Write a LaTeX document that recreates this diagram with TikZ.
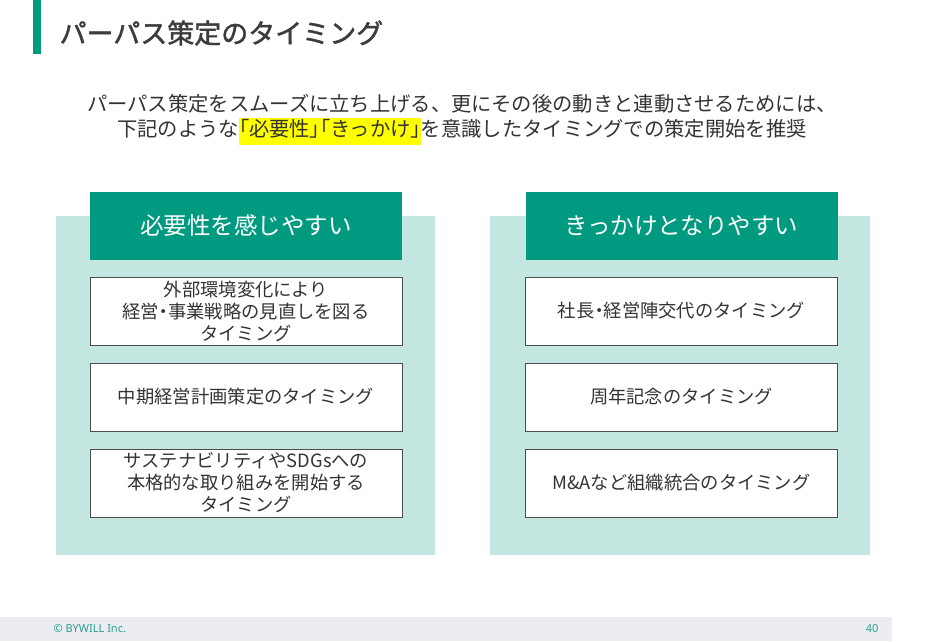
\documentclass[tikz,border=0pt]{standalone}
\usepackage{fontspec}
\setmainfont{Noto Sans CJK JP}
\newfontfamily\latinfont{Noto Sans}
\newfontfamily\pfont[RawFeature=+palt]{Noto Sans CJK JP}
\newfontfamily\titlefont[FakeBold=1.6]{Noto Sans CJK JP}
\definecolor{dkgreen}{RGB}{0,154,128}
\definecolor{ltgreen}{RGB}{195,230,225}
\definecolor{txt}{RGB}{51,51,51}
\definecolor{titletxt}{RGB}{60,60,60}
\definecolor{footbg}{RGB}{236,237,241}
\definecolor{foottxt}{RGB}{40,160,140}
\definecolor{hl}{RGB}{255,255,0}
\newcommand{\pd}{{\pfont ・}}
\begin{document}
\begin{tikzpicture}[x=1pt,y=-1pt,
  header/.style={fill=dkgreen,draw=none,text=white,font=\fontsize{23.5}{26}\selectfont,minimum width=312pt,minimum height=68pt,inner sep=0pt},
  itembox/.style={fill=white,draw=black!70,line width=0.8pt,text=txt,font=\fontsize{18.3}{22}\selectfont,minimum width=312pt,minimum height=68pt,inner sep=0pt,align=center}]
\useasboundingbox (0,0) rectangle (926,641);
\fill[white] (0,0) rectangle (926,641);
% title
\fill[dkgreen] (33,0) rectangle (41,54);
\node[anchor=west,text=titletxt,font=\titlefont\fontsize{27}{30}\selectfont] (title) at (56,33) {パーパス策定のタイミング};
% subtitle
\node[text=txt,font=\fontsize{20.3}{27}\selectfont] (sub1) at (462,104) {パーパス策定をスムーズに立ち上げる、更にその後の動きと連動させるためには、};
\node[text=txt,font=\fontsize{20.3}{27}\selectfont] (sub2) at (462,131) {下記のような{\setlength{\fboxsep}{0pt}\colorbox{hl}{\strut{\pfont 「}必要性{\pfont 」「}きっかけ{\pfont 」}}}を意識したタイミングでの策定開始を推奨};
% panels
\fill[ltgreen] (56,216) rectangle (435,555);
\fill[ltgreen] (490,216) rectangle (870,555);
\node[header] (h1) at (246,226) {必要性を感じやすい};
\node[header] (h2) at (681.5,226) {きっかけとなりやすい};
\node[itembox] (a1) at (246,311) {外部環境変化により\\経営\pd 事業戦略の見直しを図る\\タイミング};
\node[itembox] (a2) at (246,397) {中期経営計画策定のタイミング};
\node[itembox] (a3) at (246,483) {サステナビリティやSDGsへの\\本格的な取り組みを開始する\\タイミング};
\node[itembox] (b1) at (681.5,311) {社長\pd 経営陣交代のタイミング};
\node[itembox] (b2) at (681.5,397) {周年記念のタイミング};
\node[itembox] (b3) at (681.5,483) {M\&Aなど組織統合のタイミング};
% footer
\fill[footbg] (0,617) rectangle (892,641);
\node[anchor=west,text=foottxt,font=\latinfont\fontsize{11}{13}\selectfont] (copy) at (50,629) {© BYWILL Inc.};
\node[anchor=east,text=foottxt,font=\latinfont\fontsize{11}{13}\selectfont] (page) at (882,629) {40};
\end{tikzpicture}
\end{document}
